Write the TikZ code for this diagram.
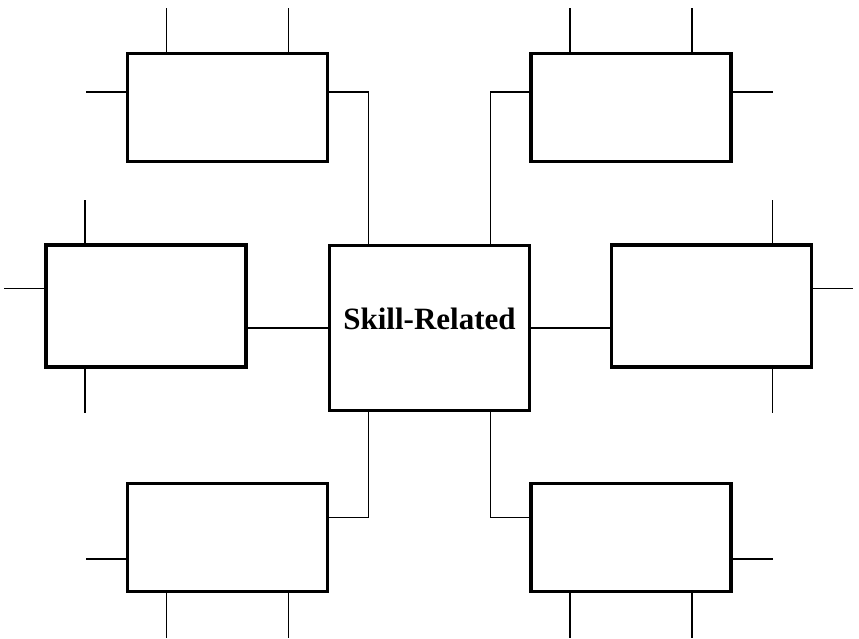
\documentclass[tikz,border=0pt]{standalone}
\usepackage{fontspec}
\setmainfont{Liberation Serif}
\usetikzlibrary{calc}

\begin{document}
\begin{tikzpicture}[
    x=1pt, y=-1pt,
    box/.style={draw, line width=3.4pt, minimum width=200pt, minimum height=108pt, inner sep=0pt},
    wide/.style={box, minimum height=122pt},
    hub/.style={box, minimum height=165pt},
    stub/.style={line width=1.8pt},
    link/.style={line width=1.8pt},
    title/.style={font=\fontsize{31}{36}\selectfont\bfseries, yshift=9.5pt},
  ]

  \useasboundingbox (0,0) rectangle (859,638);

  % Kästen: Mitte und sechs umliegende
  \node[hub, label={[title]center:Skill-Related}] (C) at (429.5,328) {};
  \node[box]  (TL) at (227.5,107.5) {};
  \node[box]  (TR) at (631,107.5) {};
  \node[wide] (L)  at (146,306) {};
  \node[wide] (R)  at (711.5,306) {};
  \node[box]  (BL) at (227.5,537.5) {};
  \node[box]  (BR) at (631,537.5) {};

  % kurze Striche oben und unten
  \foreach \b in {TL,TR} \foreach \f in {0.2,0.8}
    \draw[stub] ($(\b.north west)!\f!(\b.north east)$) -- ++(0,-44);
  \foreach \b in {BL,BR} \foreach \f in {0.2,0.8}
    \draw[stub] ($(\b.south west)!\f!(\b.south east)$) -- ++(0,45);
  \draw[stub] ($(L.north west)!0.2!(L.north east)$) -- ++(0,-43);
  \draw[stub] ($(L.south west)!0.2!(L.south east)$) -- ++(0,44);
  \draw[stub] ($(R.north west)!0.8!(R.north east)$) -- ++(0,-43);
  \draw[stub] ($(R.south west)!0.8!(R.south east)$) -- ++(0,44);

  % kurze Striche seitlich
  \draw[stub] ($(TL.north west)!0.36!(TL.south west)$) -- ++(-40,0);
  \draw[stub] ($(TR.north east)!0.36!(TR.south east)$) -- ++(40,0);
  \draw[stub] ($(L.north west)!0.36!(L.south west)$) -- ++(-40,0);
  \draw[stub] ($(R.north east)!0.36!(R.south east)$) -- ++(40,0);
  \draw[stub] ($(BL.north west)!0.69!(BL.south west)$) -- ++(-40,0);
  \draw[stub] ($(BR.north east)!0.69!(BR.south east)$) -- ++(40,0);

  % Verbindungen zum mittleren Kasten
  \draw[link] ($(TL.north east)!0.36!(TL.south east)$) -| ($(C.north west)!0.2!(C.north east)$);
  \draw[link] ($(TR.north west)!0.36!(TR.south west)$) -| ($(C.north west)!0.8!(C.north east)$);
  \draw[link] ($(BL.north east)!0.32!(BL.south east)$) -| ($(C.south west)!0.2!(C.south east)$);
  \draw[link] ($(BR.north west)!0.32!(BR.south west)$) -| ($(C.south west)!0.8!(C.south east)$);
  \draw[link] (C.west) -- (C.west -| L.east);
  \draw[link] (C.east) -- (C.east -| R.west);

\end{tikzpicture}
\end{document}
